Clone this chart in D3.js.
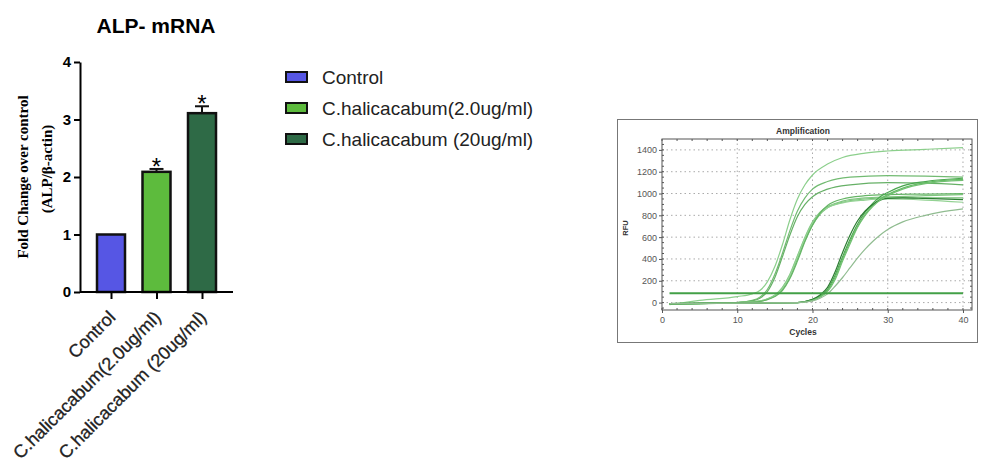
<!DOCTYPE html>
<html>
<head>
<meta charset="utf-8">
<script src="https://cdn.jsdelivr.net/npm/d3@7"></script>
<style>
  body { margin: 0; background: #fff; }
  svg { display: block; }
</style>
</head>
<body>
<div id="chart"></div>
<script>
// bar chart data
const categories = ['Control', 'C.halicacabum(2.0ug/ml)', 'C.halicacabum (20ug/ml)']
const foldChange = [1.0, 2.09, 3.11]
const foldError = [0, 0.05, 0.12]
const significant = [false, true, true]
const barColors = ['#5656e4', '#5dbb3d', '#2e6a46']
const foldTicks = [0, 1, 2, 3, 4]

// amplification plot data, [cycle, RFU]
const cycleTicks = [0, 10, 20, 30, 40]
const rfuTicks = [0, 200, 400, 600, 800, 1000, 1200, 1400]
const thresholdRfu = 85
const curveA1 = [[1, -20], [5, 20], [10, 55], [12, 80], [13, 110], [14, 190], [15, 330], [16, 530], [17, 760], [18, 950], [19, 1080], [20, 1170], [22, 1270], [24, 1330], [27, 1370], [30, 1390], [35, 1405], [40, 1420]]
const curveA2 = [[1, -15], [5, -5], [10, 0], [12, 20], [13, 50], [14, 120], [15, 260], [16, 450], [17, 660], [18, 840], [19, 960], [20, 1040], [22, 1110], [25, 1150], [30, 1165], [35, 1160], [40, 1150]]
const curveA3 = [[1, -10], [5, -5], [10, 0], [12, 15], [13, 40], [14, 100], [15, 230], [16, 420], [17, 620], [18, 790], [19, 900], [20, 970], [22, 1040], [25, 1080], [30, 1100], [35, 1095], [40, 1080]]
const curveB1 = [[1, -15], [10, 0], [13, 15], [14, 35], [15, 70], [16, 140], [17, 260], [18, 430], [19, 600], [20, 740], [21, 830], [22, 880], [24, 930], [27, 960], [30, 970], [35, 980], [40, 990]]
const curveB2 = [[1, -12], [10, 0], [13, 12], [14, 30], [15, 60], [16, 120], [17, 230], [18, 400], [19, 570], [20, 710], [21, 810], [22, 870], [24, 920], [27, 950], [30, 960], [35, 960], [40, 960]]
const curveB3 = [[1, -10], [10, 0], [13, 14], [14, 32], [15, 65], [16, 130], [17, 250], [18, 420], [19, 590], [20, 730], [21, 820], [22, 870], [24, 915], [27, 940], [30, 950], [35, 940], [40, 920]]
const curveB4 = [[1, -12], [10, 0], [13, 10], [14, 26], [15, 55], [16, 110], [17, 220], [18, 380], [19, 560], [20, 710], [21, 820], [22, 890], [24, 950], [27, 980], [30, 990], [35, 995], [40, 1000]]
const curveC1 = [[1, -10], [10, -5], [18, 0], [19, 10], [20, 30], [21, 60], [22, 120], [23, 250], [24, 420], [25, 580], [26, 720], [27, 830], [28, 910], [29, 970], [30, 1010], [32, 1070], [35, 1110], [40, 1140]]
const curveC2 = [[1, -10], [10, -5], [18, 0], [19, 8], [20, 25], [21, 55], [22, 110], [23, 230], [24, 400], [25, 560], [26, 700], [27, 810], [28, 890], [29, 950], [30, 990], [32, 1050], [35, 1100], [40, 1130]]
const curveC3 = [[1, -10], [10, -5], [18, 0], [19, 10], [20, 30], [21, 70], [22, 140], [23, 280], [24, 460], [25, 620], [26, 750], [27, 840], [28, 900], [29, 940], [30, 955], [32, 960], [35, 955], [40, 945]]
const curveC4 = [[1, -10], [10, -5], [18, 0], [19, 6], [20, 20], [21, 50], [22, 100], [23, 210], [24, 380], [25, 540], [26, 690], [27, 800], [28, 880], [29, 940], [30, 980], [32, 1040], [35, 1090], [40, 1120]]
const curveD1 = [[1, -10], [10, -5], [18, 0], [20, 15], [21, 40], [22, 80], [23, 150], [24, 230], [25, 320], [26, 410], [27, 490], [28, 560], [29, 620], [30, 670], [32, 740], [35, 800], [37, 830], [40, 860]]
const ampCurves = [curveA1, curveA2, curveA3, curveB1, curveB2, curveB3, curveB4, curveC1, curveC2, curveC3, curveC4, curveD1]
const ampColors = ['#8ccf8c', '#72bb72', '#66b066', '#80c680', '#74c074', '#93d293', '#66b566', '#4aa64f', '#62ba62', '#2d7d33', '#72c072', '#90bc90']

const svg = d3.select('#chart')
  .append('svg')
  .attr('width', 982)
  .attr('height', 462)
  .style('font-family', '"Liberation Sans", Arial, sans-serif')

// ---------- bar chart ----------
const x = d3.scalePoint().domain(categories).range([111, 202])
const y = d3.scaleLinear().domain([0, 4]).range([292, 62])
const barW = 28

svg.append('text')
  .text('ALP- mRNA')
  .attr('x', 156)
  .attr('y', 33)
  .attr('text-anchor', 'middle')
  .style('font-size', '21px')
  .style('font-weight', 'bold')

const bars = svg.append('g')
bars.selectAll('rect')
  .data(categories)
  .join('rect')
  .attr('x', d => x(d) - barW / 2)
  .attr('y', (d, i) => y(foldChange[i]))
  .attr('width', barW)
  .attr('height', (d, i) => y(0) - y(foldChange[i]))
  .attr('fill', (d, i) => barColors[i])
  .attr('stroke', '#111')
  .attr('stroke-width', 2.5)

// error bars (upper only)
categories.forEach((c, i) => {
  if (foldError[i] <= 0) return
  const top = y(foldChange[i] + foldError[i])
  bars.append('line')
    .attr('x1', x(c)).attr('x2', x(c))
    .attr('y1', y(foldChange[i])).attr('y2', top)
    .attr('stroke', '#111').attr('stroke-width', 2)
  bars.append('line')
    .attr('x1', x(c) - 7).attr('x2', x(c) + 7)
    .attr('y1', top).attr('y2', top)
    .attr('stroke', '#111').attr('stroke-width', 2)
  if (significant[i]) {
    bars.append('text')
      .text('*')
      .attr('x', x(c))
      .attr('y', top + 6)
      .attr('text-anchor', 'middle')
      .style('font-size', '24px')
  }
})

const yAxis = svg.append('g')
  .attr('transform', 'translate(80,0)')
  .call(d3.axisLeft(y).tickValues(foldTicks).tickFormat(d3.format('d')).tickSize(6).tickSizeOuter(0))
yAxis.select('.domain').attr('stroke-width', 2)
yAxis.selectAll('.tick line').attr('stroke-width', 2)
yAxis.selectAll('.tick text')
  .attr('x', -9)
  .style('font-size', '15px')
  .style('font-weight', 'bold')
  .style('font-family', '"Liberation Sans", Arial, sans-serif')

const xAxis = svg.append('g')
  .attr('transform', 'translate(0,292)')
  .call(d3.axisBottom(x).tickSize(7).tickSizeOuter(0).tickFormat(''))
xAxis.select('.domain').attr('d', 'M80,0H233').attr('stroke-width', 2)
xAxis.selectAll('.tick line').attr('stroke-width', 2)

svg.append('g')
  .selectAll('text')
  .data(categories)
  .join('text')
  .text(d => d)
  .attr('transform', d => `translate(${x(d) + 1},${314}) rotate(-45)`)
  .attr('text-anchor', 'end')
  .attr('dy', '0.35em')
  .style('font-size', '18px')
  .style('fill', '#222')
  .style('stroke', '#222')
  .style('stroke-width', 0.3)

const yLabel = svg.append('g')
  .style('font-family', '"Liberation Serif", "Times New Roman", serif')
  .style('font-weight', 'bold')
  .style('font-size', '15px')
yLabel.append('text')
  .text('Fold Change over control')
  .attr('transform', 'translate(28,177) rotate(-90)')
  .attr('text-anchor', 'middle')
yLabel.append('text')
  .text('(ALP/β-actin)')
  .attr('transform', 'translate(52,169) rotate(-90)')
  .attr('text-anchor', 'middle')

// legend
const legend = svg.append('g')
  .selectAll('g')
  .data(categories)
  .join('g')
  .attr('transform', (d, i) => `translate(286,${77 + i * 31})`)
legend.append('rect')
  .attr('x', 0).attr('y', -5)
  .attr('width', 21).attr('height', 10)
  .attr('fill', (d, i) => barColors[i])
  .attr('stroke', '#111').attr('stroke-width', 2)
legend.append('text')
  .text(d => d)
  .attr('x', 36)
  .attr('dy', '0.36em')
  .style('font-size', '19px')
  .style('fill', '#222')

// ---------- amplification plot ----------
const xa = d3.scaleLinear().domain([0, 41.2]).range([662, 972])
const ya = d3.scaleLinear().domain([-68, 1500]).range([310, 139])

svg.append('rect')
  .attr('x', 617.5).attr('y', 119.5)
  .attr('width', 360).attr('height', 223)
  .attr('fill', '#fff').attr('stroke', '#777').attr('stroke-width', 1)

svg.append('text')
  .text('Amplification')
  .attr('x', 803).attr('y', 134)
  .attr('text-anchor', 'middle')
  .style('font-size', '8.5px').style('font-weight', 'bold').style('fill', '#333')

const amp = svg.append('g')

// dotted grid
amp.selectAll('.gx')
  .data(cycleTicks.filter(d => d > 0))
  .join('line')
  .attr('x1', d => xa(d)).attr('x2', d => xa(d))
  .attr('y1', ya.range()[1]).attr('y2', ya.range()[0])
  .attr('stroke', '#aaa').attr('stroke-dasharray', '1.5,3')
amp.selectAll('.gy')
  .data(rfuTicks)
  .join('line')
  .attr('y1', d => ya(d)).attr('y2', d => ya(d))
  .attr('x1', xa.range()[0]).attr('x2', xa.range()[1])
  .attr('stroke', '#aaa').attr('stroke-dasharray', '1.5,3')

// curves
const line = d3.line()
  .x(d => xa(d[0]))
  .y(d => ya(d[1]))
  .curve(d3.curveMonotoneX)
amp.selectAll('.curve')
  .data(ampCurves)
  .join('path')
  .attr('d', line)
  .attr('fill', 'none')
  .attr('stroke', (d, i) => ampColors[i])
  .attr('stroke-width', 1.2)

// threshold
amp.append('line')
  .attr('x1', xa(1)).attr('x2', xa(40))
  .attr('y1', ya(thresholdRfu)).attr('y2', ya(thresholdRfu))
  .attr('stroke', '#43a047').attr('stroke-width', 2)

// frame with minor ticks
amp.append('rect')
  .attr('x', xa.range()[0]).attr('y', ya.range()[1])
  .attr('width', xa.range()[1] - xa.range()[0])
  .attr('height', ya.range()[0] - ya.range()[1])
  .attr('fill', 'none').attr('stroke', '#555').attr('stroke-width', 1)

const axLeft = amp.append('g')
  .attr('transform', `translate(${xa.range()[0]},0)`)
  .call(d3.axisLeft(ya).tickValues(rfuTicks).tickFormat(d3.format('d')).tickSize(3).tickSizeOuter(0))
axLeft.select('.domain').remove()
axLeft.selectAll('.tick text').attr('x', -5)
  .style('font-size', '9px').style('fill', '#555')
  .style('font-family', '"Liberation Sans", Arial, sans-serif')
axLeft.selectAll('.tick line').attr('stroke', '#555')

const axBottom = amp.append('g')
  .attr('transform', `translate(0,${ya.range()[0]})`)
  .call(d3.axisBottom(xa).tickValues(cycleTicks).tickFormat(d3.format('d')).tickSize(3).tickSizeOuter(0))
axBottom.select('.domain').remove()
axBottom.selectAll('.tick text').attr('y', 7)
  .style('font-size', '9px').style('fill', '#555')
  .style('font-family', '"Liberation Sans", Arial, sans-serif')
axBottom.selectAll('.tick line').attr('stroke', '#555')

const minorX = d3.range(0, 41, 2)
const minorY = d3.range(-50, 1500, 50)
amp.selectAll('.mxt')
  .data(minorX)
  .join('line')
  .attr('x1', d => xa(d)).attr('x2', d => xa(d))
  .attr('y1', ya.range()[1]).attr('y2', ya.range()[1] + 2)
  .attr('stroke', '#555')
amp.selectAll('.mxb')
  .data(minorX)
  .join('line')
  .attr('x1', d => xa(d)).attr('x2', d => xa(d))
  .attr('y1', ya.range()[0]).attr('y2', ya.range()[0] - 2)
  .attr('stroke', '#555')
amp.selectAll('.myl')
  .data(minorY)
  .join('line')
  .attr('y1', d => ya(d)).attr('y2', d => ya(d))
  .attr('x1', xa.range()[0]).attr('x2', xa.range()[0] + 2)
  .attr('stroke', '#555')
amp.selectAll('.myr')
  .data(minorY)
  .join('line')
  .attr('y1', d => ya(d)).attr('y2', d => ya(d))
  .attr('x1', xa.range()[1]).attr('x2', xa.range()[1] - 2)
  .attr('stroke', '#555')

amp.append('text')
  .text('RFU')
  .attr('transform', 'translate(628,228) rotate(-90)')
  .attr('text-anchor', 'middle')
  .style('font-size', '7.5px').style('font-weight', 'bold').style('fill', '#333')
amp.append('text')
  .text('Cycles')
  .attr('x', 803).attr('y', 335)
  .attr('text-anchor', 'middle')
  .style('font-size', '8.5px').style('font-weight', 'bold').style('fill', '#333')
</script>
</body>
</html>
